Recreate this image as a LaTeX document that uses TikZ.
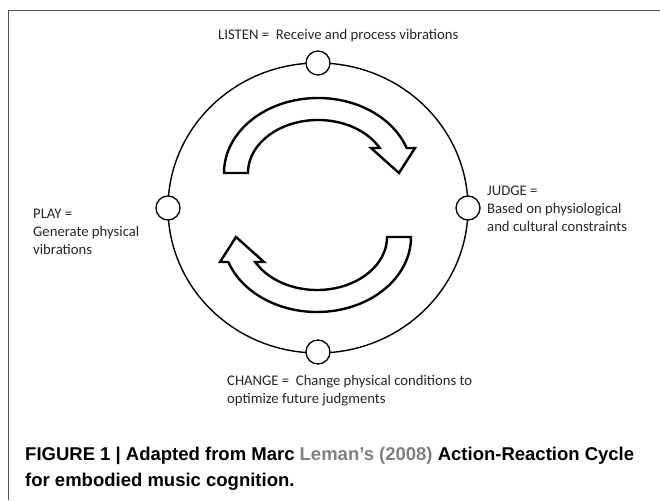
\documentclass[tikz,border=0pt]{standalone}
\usepackage{fontspec}
\setmainfont{Carlito}
\newfontfamily\capfont{Liberation Sans}
\definecolor{framegray}{HTML}{555555}
\definecolor{linkgray}{HTML}{808080}
\definecolor{txt}{HTML}{262626}
\begin{document}
\begin{tikzpicture}[x=1pt,y=1pt,
  frame/.style={draw=framegray,line width=1.3pt},
  ring/.style={draw=black,line width=1.4pt},
  port/.style={circle,draw=black,fill=white,line width=1.3pt,minimum size=24pt,inner sep=0pt},
  lbl/.style={anchor=base west,inner sep=0pt,align=left,text=txt,font=\fontsize{14.7}{18}\selectfont},
  captext/.style={anchor=base west,inner sep=0pt,font=\capfont\bfseries\fontsize{18.5}{28}\selectfont},
  bigarrow/.style={draw=black,fill=white,line width=2.4pt,line join=miter}]
\useasboundingbox (0,0) rectangle (660,500);
\draw[frame] (660,489.5) -- (8.5,489.5) -- (8.5,0);
\coordinate (ctr) at (318,292);
\draw[ring] (ctr) ellipse [x radius=150, y radius=145];
\node[port] (listen) at (318,437) {};
\node[port] (change) at (318,148) {};
\node[port] (play) at (168,292) {};
\node[port] (judge) at (468,292) {};
% top arrow
\draw[bigarrow] (224,327) arc[start angle=180, end angle=19.47, x radius=94, y radius=75]
  -- (415,352) -- (399,327) -- (371,352) -- (379.7,352)
  arc[start angle=28.14, end angle=180, x radius=70, y radius=53] -- cycle;
% bottom arrow
\draw[bigarrow] (411,263) arc[start angle=0, end angle=-160.53, x radius=94, y radius=75]
  -- (220,238) -- (236,263) -- (264,238) -- (255.3,238)
  arc[start angle=-151.86, end angle=0, x radius=70, y radius=53] -- cycle;
% labels (base anchor = baseline of the last line)
\node[lbl] (tlisten) at (218,460) {LISTEN =\ \ Receive and process vibrations};
\node[lbl] (tplay) at (33,245) {PLAY =\\Generate physical\\vibrations};
\node[lbl] (tjudge) at (487,268) {JUDGE =\\Based on physiological\\and cultural constraints};
\node[lbl] (tchange) at (227,96) {CHANGE =\ \ Change physical conditions to\\optimize future judgments};
% caption
\node[captext] (cap1) at (25,40) {FIGURE 1 | Adapted from Marc \textcolor{linkgray}{Leman’s (2008)} Action-Reaction Cycle};
\node[captext] (cap2) at (25,14) {for embodied music cognition.};
\end{tikzpicture}
\end{document}
